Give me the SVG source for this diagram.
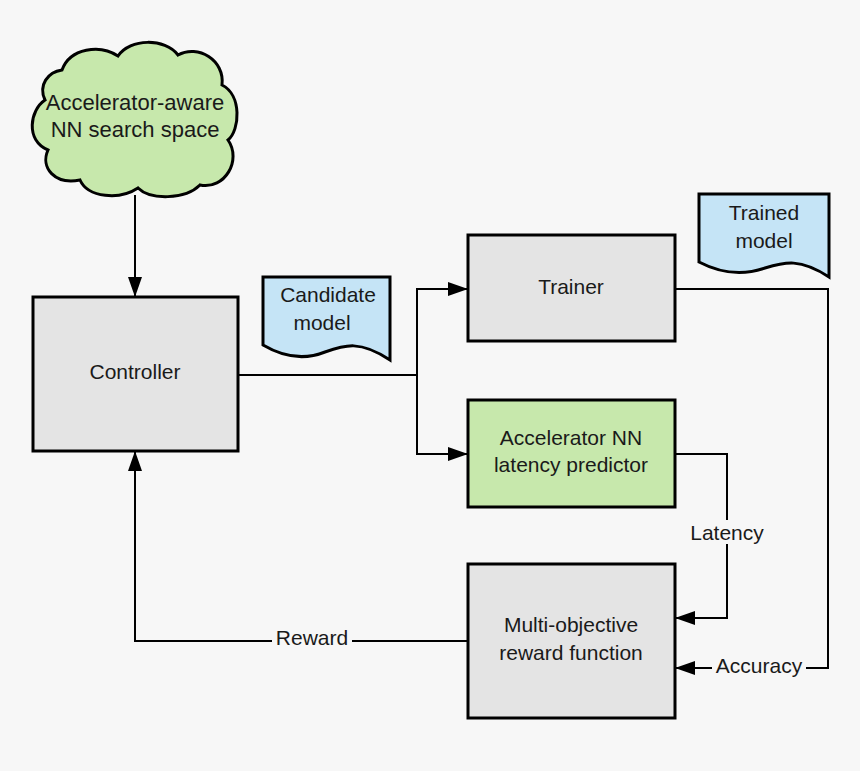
<svg xmlns="http://www.w3.org/2000/svg" width="860" height="771" viewBox="0 0 860 771">
<style>
text{font-family:"Liberation Sans",Arial,sans-serif;font-size:21px;fill:#1a1a1a;text-anchor:middle}
.big{font-size:22px}
.box{stroke:#000;stroke-width:3}
.g{fill:#e4e4e4}.gr{fill:#c7e8ac}.b{fill:#c5e4f6}
.c{fill:none;stroke:#000;stroke-width:2}
.lbl{fill:#f7f7f7}
</style>
<defs><marker id="a" markerWidth="20" markerHeight="14" refX="19" refY="7" orient="auto" markerUnits="userSpaceOnUse"><path d="M0,0 L20,7 L0,14Z" fill="#000"/></marker></defs>
<rect width="860" height="771" fill="#f7f7f7"/>
<g id="cloud"><path class="box gr" d="M62,70 C70,48 100,44 118,56 C130,38 165,38 178,55 C198,44 225,60 222,85 C242,95 240,130 228,140 C242,160 225,190 200,185 C185,200 150,200 138,188 C120,200 88,198 80,180 C55,185 40,168 48,150 C25,140 30,110 45,100 C38,85 48,72 62,70Z"/>
<text class="big" x="135" y="110">Accelerator-aware</text><text class="big" x="135" y="137">NN search space</text></g>
<g id="controller"><rect class="box g" x="33" y="297" width="205" height="154"/><text x="135" y="379">Controller</text></g>
<g id="candidate"><path class="box b" d="M263,277 H390 V360 C360,340 345,345 325,352 C305,360 285,358 263,345Z"/><text x="328" y="302">Candidate</text><text x="322" y="330">model</text></g>
<g id="trainer"><rect class="box g" x="468" y="235" width="207" height="106"/><text x="571" y="294">Trainer</text></g>
<g id="trained"><path class="box b" d="M699,194 H829 V277 C800,258 785,262 765,268 C745,275 722,274 699,262Z"/><text x="764" y="220">Trained</text><text x="764" y="248">model</text></g>
<g id="predictor"><rect class="box gr" x="468" y="400" width="207" height="107"/><text x="571" y="445">Accelerator NN</text><text x="571" y="472">latency predictor</text></g>
<g id="reward"><rect class="box g" x="468" y="564" width="207" height="154"/><text x="571" y="632">Multi-objective</text><text x="571" y="660">reward function</text></g>
<g id="connectors">
<path class="c" d="M135,195 V296" marker-end="url(#a)"/>
<path class="c" d="M238,375 H417 M417,375 V289 H467" marker-end="url(#a)"/>
<path class="c" d="M417,375 V454 H467" marker-end="url(#a)"/>
<path class="c" d="M675,289 H828 V668 H676" marker-end="url(#a)"/>
<path class="c" d="M675,454 H727 V618 H676" marker-end="url(#a)"/>
<path class="c" d="M468,641 H135 V452" marker-end="url(#a)"/>
<rect class="lbl" x="685" y="520" width="84" height="24"/><text x="727" y="540">Latency</text>
<rect class="lbl" x="712" y="655" width="94" height="24"/><text x="759" y="673">Accuracy</text>
<rect class="lbl" x="272" y="628" width="80" height="24"/><text x="312" y="645">Reward</text>
</g>
</svg>
